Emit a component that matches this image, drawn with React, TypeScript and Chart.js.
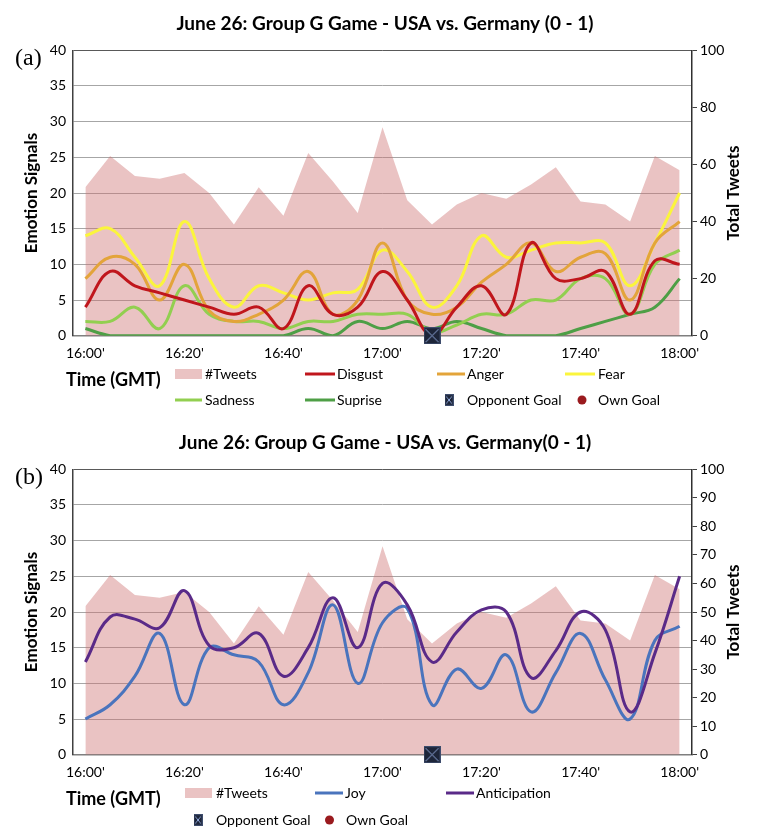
import React, { useEffect, useRef } from 'react';
import { Chart, registerables } from 'chart.js';

Chart.register(...registerables);

const SANS = 'Lato, "Open Sans", sans-serif';
const SERIF = '"Liberation Serif", "DejaVu Serif", serif';

// ---------- data ----------
const times = [
  '16:00', '16:05', '16:10', '16:15', '16:20', '16:25', '16:30', '16:35', '16:40',
  '16:45', '16:50', '16:55', '17:00', '17:05', '17:10', '17:15', '17:20', '17:25',
  '17:30', '17:35', '17:40', '17:45', '17:50', '17:55', '18:00',
];
const xTickLabels = ["16:00'", "16:20'", "16:40'", "17:00'", "17:20'", "17:40'", "18:00'"];

const tweets = [52, 63, 56, 55, 57, 50, 39, 52, 42, 64, 54, 43, 73, 47.5, 39, 46, 50, 48, 53, 59, 47, 46, 40, 63, 58];

const disgust = [4, 9, 7, 6, 5, 4, 3, 4, 1, 7, 3, 4, 9, 5, 0, 4, 7, 3, 13, 8, 8, 9, 3, 10.5, 10];
const anger = [8, 11, 10, 5, 10, 3.5, 2, 3, 5, 9, 3, 5, 13, 5, 3, 4, 7.5, 10, 13, 9, 11, 11.5, 5, 13, 16];
const fear = [14, 15, 11, 7, 16, 8, 4, 7, 6, 5, 6, 6.5, 12, 9, 4, 7, 14, 11, 12, 13, 13, 13, 7, 13, 20];
const sadness = [2, 2, 4, 1, 7, 3, 2, 2, 1, 2, 2, 3, 3, 3, 0.5, 1.5, 3, 3, 5, 5, 8, 8, 3, 10, 12];
const surprise = [1, 0, 0, 0, 0, 0, 0, 0, 0, 1, 0, 2, 1, 2, 1, 2, 1, 0, 0, 0, 1, 2, 3, 4, 8];

const joy = [5, 7, 11, 17, 7, 15, 14, 13, 7, 11.5, 21, 10, 18.5, 20.5, 7, 12, 9.3, 14, 6, 11.5, 17, 10.5, 5, 16, 18];
const anticipation = [13, 19.3, 19, 17.8, 23, 15.3, 15, 17, 11, 15, 22, 15, 24, 21, 13, 17.2, 20.3, 20, 10.8, 14.6, 20, 17.5, 6, 14.2, 25];

const opponentGoalTime = '17:10';
const opponentGoal = times.map((t) => (t === opponentGoalTime ? 0 : null));

// ---------- styles ----------
const COLORS = {
  disgust: '#c0161c',
  anger: '#e3a43a',
  fear: '#fbf53c',
  sadness: '#92cf50',
  surprise: '#4e9f46',
  joy: '#4a74bd',
  anticipation: '#5a2a88',
  ownGoal: '#9a1a1e',
};
const TWEET_FILL = 'rgba(204, 112, 112, 0.42)';
const TWEET_SWATCH = '#eac3c3';

function makeGoalMarker(size: number): HTMLCanvasElement {
  const c = document.createElement('canvas');
  c.width = size;
  c.height = size;
  const g = c.getContext('2d')!;
  g.fillStyle = '#1d2539';
  g.fillRect(0, 0, size, size);
  g.strokeStyle = '#3d4c6c';
  g.lineWidth = 1;
  g.strokeRect(0.5, 0.5, size - 1, size - 1);
  g.strokeStyle = '#8ea6da';
  g.lineWidth = 1;
  g.beginPath();
  g.moveTo(2, 2);
  g.lineTo(size - 2, size - 2);
  g.moveTo(size - 2, 2);
  g.lineTo(2, size - 2);
  g.stroke();
  return c;
}

type LegendItem = {
  kind: 'rect' | 'line' | 'marker' | 'dot';
  color?: string;
  x1: number;
  x2?: number;
  y: number;
  text: string;
  tx: number;
};

type OverlayCfg = {
  title: string;
  tag: string;
  legend: LegendItem[];
};

const overlayPlugin = {
  id: 'overlay',
  afterDraw(chart: any, _args: any, opts: OverlayCfg) {
    const ctx: CanvasRenderingContext2D = chart.ctx;
    const area = chart.chartArea;
    ctx.save();
    ctx.fillStyle = '#000';
    ctx.textBaseline = 'middle';

    // title
    ctx.textAlign = 'center';
    ctx.font = `bold 19px ${SANS}`;
    ctx.fillText(opts.title, 385, 24);

    // panel tag
    ctx.textAlign = 'left';
    ctx.font = `24px ${SERIF}`;
    ctx.fillText(opts.tag, 15, 59);

    // axis titles
    const cy = (area.top + area.bottom) / 2;
    ctx.font = `bold 17px ${SANS}`;
    ctx.textAlign = 'center';
    ctx.save();
    ctx.translate(32, cy);
    ctx.rotate(-Math.PI / 2);
    ctx.fillText('Emotion Signals', 0, 0);
    ctx.restore();
    ctx.save();
    ctx.translate(734, cy);
    ctx.rotate(-Math.PI / 2);
    ctx.fillText('Total Tweets', 0, 0);
    ctx.restore();

    // x axis title
    ctx.textAlign = 'left';
    ctx.font = `bold 18px ${SANS}`;
    ctx.fillText('Time (GMT)', 66, 380);

    // legend
    ctx.font = `14px ${SANS}`;
    const marker = makeGoalMarker(10);
    for (const it of opts.legend) {
      if (it.kind === 'rect') {
        ctx.fillStyle = it.color!;
        ctx.fillRect(it.x1, it.y - 5, it.x2! - it.x1, 10);
      } else if (it.kind === 'line') {
        ctx.strokeStyle = it.color!;
        ctx.lineWidth = 3;
        ctx.beginPath();
        ctx.moveTo(it.x1, it.y);
        ctx.lineTo(it.x2!, it.y);
        ctx.stroke();
      } else if (it.kind === 'marker') {
        ctx.drawImage(marker, it.x1 - 4.5, it.y - 6, 9, 12);
      } else if (it.kind === 'dot') {
        ctx.fillStyle = it.color!;
        ctx.beginPath();
        ctx.arc(it.x1, it.y, 4.5, 0, Math.PI * 2);
        ctx.fill();
      }
      ctx.fillStyle = '#000';
      ctx.fillText(it.text, it.tx, it.y);
    }
    ctx.restore();
  },
};

type Series = { label: string; data: number[]; color: string };

function buildConfig(series: Series[], rightStep: number, height: number, overlay: OverlayCfg): any {
  const tickFont = { family: SANS, size: 14 };
  const PLOT_BOTTOM = 335.7;
  return {
    type: 'line',
    data: {
      labels: times,
      datasets: [
        {
          label: 'Opponent Goal',
          data: opponentGoal,
          yAxisID: 'y',
          showLine: false,
          pointStyle: makeGoalMarker(17),
          pointRadius: 8,
          order: 0,
          clip: false,
        },
        ...series.map((s, i) => ({
          label: s.label,
          data: s.data,
          yAxisID: 'y',
          borderColor: s.color,
          backgroundColor: s.color,
          borderWidth: 3,
          pointRadius: 0,
          tension: 0.4,
          fill: false,
          order: 1 + i,
        })),
        {
          label: '#Tweets',
          data: tweets,
          yAxisID: 'y2',
          fill: 'origin',
          backgroundColor: TWEET_FILL,
          borderWidth: 0,
          borderColor: 'rgba(0,0,0,0)',
          pointRadius: 0,
          tension: 0,
          order: 20,
        },
      ],
    },
    options: {
      responsive: false,
      animation: false,
      events: [],
      layout: { padding: { top: 50.3, left: 0, right: 0, bottom: 0 } },
      plugins: {
        legend: { display: false },
        title: { display: false },
        tooltip: { enabled: false },
        overlay,
      },
      scales: {
        x: {
          type: 'category',
          offset: true,
          grid: { display: false, drawTicks: false },
          border: { display: true, color: '#7f7f7f', width: 1.5 },
          ticks: {
            autoSkip: false,
            maxRotation: 0,
            minRotation: 0,
            padding: 9,
            color: '#000',
            font: tickFont,
            callback: (_v: any, i: number) => (i % 4 === 0 ? xTickLabels[i / 4] : ''),
          },
          afterFit: (s: any) => {
            s.height = height - PLOT_BOTTOM;
          },
        },
        y: {
          position: 'left',
          min: 0,
          max: 40,
          ticks: { stepSize: 5, padding: 7, color: '#000', font: tickFont },
          grid: {
            drawTicks: false,
            lineWidth: 1,
            color: (c: any) => (c.tick && c.tick.value === 40 ? '#595959' : '#a6a6a6'),
          },
          border: { display: true, color: '#404040', width: 1.5 },
          afterFit: (s: any) => {
            s.width = 73;
          },
        },
        y2: {
          position: 'right',
          min: 0,
          max: 100,
          ticks: { stepSize: rightStep, padding: 3, color: '#000', font: tickFont },
          grid: { drawOnChartArea: false, drawTicks: true, tickLength: 5, color: '#404040' },
          border: { display: true, color: '#303030', width: 1.5 },
          afterFit: (s: any) => {
            s.width = 70;
          },
        },
      },
    },
    plugins: [overlayPlugin],
  };
}

const topSeries: Series[] = [
  { label: 'Disgust', data: disgust, color: COLORS.disgust },
  { label: 'Anger', data: anger, color: COLORS.anger },
  { label: 'Fear', data: fear, color: COLORS.fear },
  { label: 'Sadness', data: sadness, color: COLORS.sadness },
  { label: 'Suprise', data: surprise, color: COLORS.surprise },
];

const bottomSeries: Series[] = [
  { label: 'Anticipation', data: anticipation, color: COLORS.anticipation },
  { label: 'Joy', data: joy, color: COLORS.joy },
];

const topOverlay: OverlayCfg = {
  title: 'June 26: Group G Game - USA vs. Germany (0 - 1)',
  tag: '(a)',
  legend: [
    { kind: 'rect', color: TWEET_SWATCH, x1: 175, x2: 202, y: 374, text: '#Tweets', tx: 205 },
    { kind: 'line', color: COLORS.disgust, x1: 305, x2: 335, y: 374, text: 'Disgust', tx: 337 },
    { kind: 'line', color: COLORS.anger, x1: 437, x2: 465, y: 374, text: 'Anger', tx: 467 },
    { kind: 'line', color: COLORS.fear, x1: 565, x2: 595, y: 374, text: 'Fear', tx: 598 },
    { kind: 'line', color: COLORS.sadness, x1: 175, x2: 202, y: 400, text: 'Sadness', tx: 205 },
    { kind: 'line', color: COLORS.surprise, x1: 305, x2: 335, y: 400, text: 'Suprise', tx: 337 },
    { kind: 'marker', x1: 449, y: 400, text: 'Opponent Goal', tx: 467 },
    { kind: 'dot', color: COLORS.ownGoal, x1: 582, y: 400, text: 'Own Goal', tx: 598 },
  ],
};

const bottomOverlay: OverlayCfg = {
  title: 'June 26: Group G Game - USA vs. Germany(0 - 1)',
  tag: '(b)',
  legend: [
    { kind: 'rect', color: TWEET_SWATCH, x1: 185, x2: 212, y: 374, text: '#Tweets', tx: 216 },
    { kind: 'line', color: COLORS.joy, x1: 315, x2: 343, y: 374, text: 'Joy', tx: 345 },
    { kind: 'line', color: COLORS.anticipation, x1: 446, x2: 474, y: 374, text: 'Anticipation', tx: 476 },
    { kind: 'marker', x1: 198, y: 401, text: 'Opponent Goal', tx: 216 },
    { kind: 'dot', color: COLORS.ownGoal, x1: 329.5, y: 401, text: 'Own Goal', tx: 346 },
  ],
};

function ChartPanel({ height, make }: { height: number; make: () => any }) {
  const ref = useRef<HTMLCanvasElement>(null);
  useEffect(() => {
    if (!ref.current) return;
    const chart = new Chart(ref.current, make());
    return () => chart.destroy();
  }, []);
  return <canvas ref={ref} width={762} height={height} style={{ display: 'block', width: 762, height }} />;
}

export default function App() {
  useEffect(() => {
    document.body.style.margin = '0';
    document.body.style.background = '#fff';
  }, []);
  return (
    <div style={{ width: 762, background: '#fff' }}>
      <ChartPanel height={419} make={() => buildConfig(topSeries, 20, 419, topOverlay)} />
      <ChartPanel height={417} make={() => buildConfig(bottomSeries, 10, 417, bottomOverlay)} />
    </div>
  );
}
